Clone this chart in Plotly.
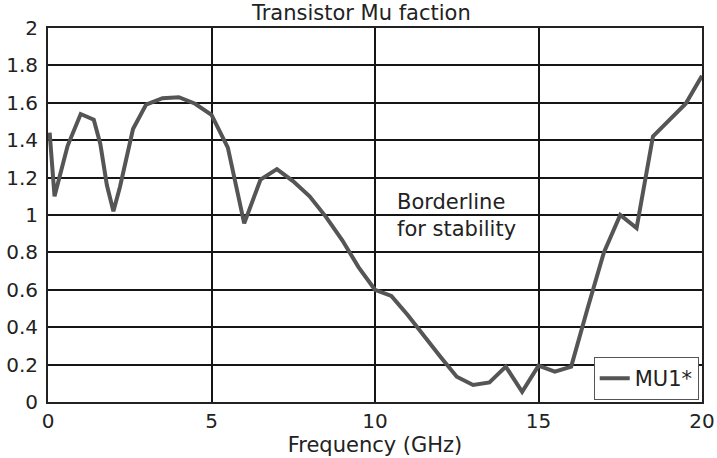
import plotly.graph_objects as go

freq_ghz = [0.05, 0.2, 0.6, 1.0, 1.4, 1.6, 1.8, 2.0, 2.2, 2.6, 3.0, 3.5, 4.0, 4.5, 5.0,
            5.5, 6.0, 6.5, 7.0, 7.5, 8.0, 8.5, 9.0, 9.5, 10.0, 10.5, 11.0, 11.5, 12.0,
            12.5, 13.0, 13.5, 14.0, 14.5, 15.0, 15.5, 16.0, 16.5, 17.0, 17.5, 18.0,
            18.5, 19.0, 19.5, 20.0]
mu1 = [1.44, 1.10, 1.37, 1.54, 1.51, 1.38, 1.16, 1.02, 1.15, 1.46, 1.59, 1.625, 1.63, 1.595, 1.535,
       1.36, 0.955, 1.19, 1.245, 1.18, 1.10, 0.99, 0.865, 0.72, 0.60, 0.567, 0.465, 0.35, 0.242,
       0.135, 0.091, 0.105, 0.189, 0.055, 0.194, 0.162, 0.189, 0.50, 0.80, 1.00, 0.93,
       1.42, 1.51, 1.595, 1.745]

series_name = "MU1*"
title_text = "Transistor Mu faction"
x_title = "Frequency (GHz)"
note_text = "Borderline<br>for stability"
x_ticks = [0, 5, 10, 15, 20]
y_ticks = [0, 0.2, 0.4, 0.6, 0.8, 1, 1.2, 1.4, 1.6, 1.8, 2]

font_family = "DejaVu Sans, Liberation Sans, sans-serif"
text_color = "#222222"

fig = go.Figure()
fig.add_trace(go.Scatter(x=freq_ghz, y=mu1, mode="lines", name=series_name,
                         line=dict(color="#555555", width=4)))

fig.update_layout(
    width=717, height=458,
    margin=dict(l=48, r=15, t=28, b=56, autoexpand=False),
    paper_bgcolor="white", plot_bgcolor="white",
    font=dict(family=font_family, size=20, color=text_color),
    title=dict(text=title_text, x=0.504, xanchor="center", y=0.988, yanchor="top",
               font=dict(size=21, color=text_color)),
    showlegend=True,
    legend=dict(x=0.995, y=0.005, xanchor="right", yanchor="bottom",
                bgcolor="white", bordercolor="#555555", borderwidth=1,
                itemwidth=30, font=dict(size=21, color=text_color),
                tracegroupgap=0),
    xaxis=dict(range=[0, 20], tickvals=x_ticks, ticktext=[str(v) for v in x_ticks],
               showgrid=True, gridcolor="#151515", gridwidth=2,
               showline=True, linecolor="#222222", linewidth=2, mirror=True,
               zeroline=False, ticks="", tickfont=dict(size=20), automargin=False,
               ticklabeloverflow="allow",
               title=dict(text=x_title, font=dict(size=21), standoff=0)),
    yaxis=dict(range=[0, 2], tickvals=y_ticks, ticktext=[f"{v:g}" for v in y_ticks],
               showgrid=True, gridcolor="#151515", gridwidth=2,
               showline=True, linecolor="#222222", linewidth=2, mirror=True,
               zeroline=False, ticks="", tickfont=dict(size=20), automargin=False,
               ticklabeloverflow="allow", ticklabelstandoff=4),
    annotations=[dict(x=10.62, y=0.995, xref="x", yref="y", text=note_text,
                      showarrow=False, xanchor="left", yanchor="middle", align="left",
                      font=dict(size=21, color=text_color))],
)

fig.write_html("out.html", config={"displayModeBar": False},
               post_script="document.body.style.margin='0';document.body.style.overflow='hidden';")
